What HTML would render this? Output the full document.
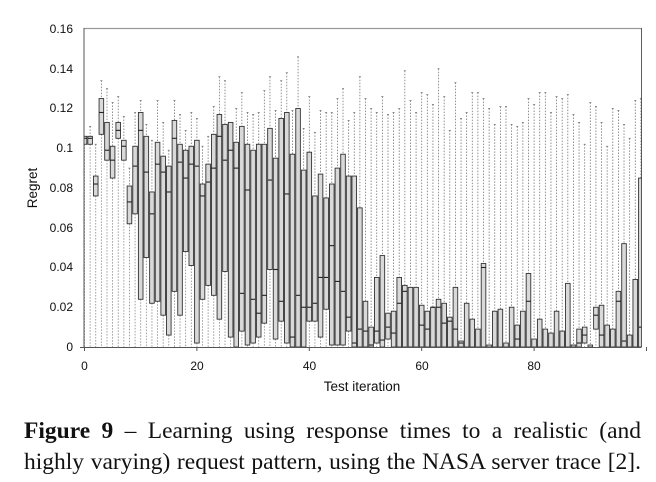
<!DOCTYPE html>
<html><head><meta charset="utf-8">
<style>
html,body{margin:0;padding:0;background:#fff;}
body{width:656px;height:482px;overflow:hidden;position:relative;}
svg{position:absolute;left:0;top:0;}
.cap{position:absolute;left:24px;top:416px;width:617px;font-family:"Liberation Serif",serif;font-size:23.5px;line-height:31px;text-align:justify;text-align-last:justify;color:#111;white-space:nowrap;}
.cap2{position:absolute;left:24px;top:447px;width:617px;font-family:"Liberation Serif",serif;font-size:23.5px;line-height:31px;color:#111;white-space:nowrap;text-align:justify;text-align-last:justify;}
</style></head><body>
<svg id="s" width="656" height="482" xmlns="http://www.w3.org/2000/svg" font-family="Liberation Sans, sans-serif">
<defs><clipPath id="c"><rect x="84" y="20" width="557.5" height="328"/></clipPath></defs>
<g id="plot" clip-path="url(#c)"></g>
<line x1="84" y1="28.5" x2="641.5" y2="28.5" stroke="#999" stroke-width="1.2"/>
<line x1="641.5" y1="28" x2="641.5" y2="347" stroke="#333" stroke-width="0.8"/>
<line x1="84" y1="28" x2="84" y2="347.5" stroke="#555" stroke-width="1"/>
<line x1="80" y1="347.5" x2="641.5" y2="347.5" stroke="#555" stroke-width="1"/>
<g id="ticks" stroke="#555" stroke-width="1"></g>
<g font-size="12" fill="#111" text-anchor="end">
<text x="73" y="33">0.16</text><text x="73" y="73">0.14</text><text x="73" y="112">0.12</text>
<text x="73" y="152">0.1</text><text x="73" y="192">0.08</text><text x="73" y="232">0.06</text>
<text x="73" y="271">0.04</text><text x="73" y="311">0.02</text><text x="73" y="351">0</text>
</g>
<g font-size="12" fill="#111" text-anchor="middle">
<text x="84.5" y="370">0</text><text x="197" y="370">20</text><text x="309.5" y="370">40</text>
<text x="422" y="370">60</text><text x="534" y="370">80</text>
<text x="362" y="391" font-size="13.5">Test iteration</text>
<text transform="translate(37,188) rotate(-90)" font-size="13.5">Regret</text>
</g>
</svg>
<div class="cap"><b>Figure 9</b> – Learning using response times to a realistic (and</div>
<div class="cap2">highly varying) request pattern, using the NASA server trace [2].</div>
<script>
var D=[[.106,.106,.105,.102],[.111,.106,.105,.102],[.102,.086,.082,.076],[.134,.125,.118,.107],[.130,.113,.099,.094],[.123,.101,.094,.085],[.126,.113,.109,.105],[.116,.104,.101,.094],[.090,.081,.073,.062],[.118,.101,.091,.067],
[.124,.118,.109,.024],[.112,.106,.088,.045],[.104,.078,.067,.022],[.124,.103,.092,.023],[.113,.096,.088,.016],[.099,.091,.078,.006],[.124,.114,.105,.028],[.117,.102,.093,.016],[.109,.099,.085,.048],[.118,.101,.092,.041],
[.115,.104,.091,.002],[.101,.082,.076,.024],[.106,.092,.083,.031],[.121,.107,.090,.026],[.136,.117,.106,.014],[.134,.112,.094,.038],[.113,.113,.099,.005],[.120,.103,.090,0],[.128,.111,.027,.008],[.118,.102,.079,.001],
[.117,.099,.024,.002],[.118,.102,.017,.005],[.129,.102,.026,.012],[.136,.110,.084,.039],[.119,.095,.039,.004],[.134,.115,.023,.013],[.138,.118,.077,.002],[.119,.097,.005,0],[.146,.120,.026,0],[.110,.089,.020,0],
[.126,.098,.020,.013],[.108,.076,.022,.013],[.119,.087,.035,.005],[.118,.075,.035,.019],[.118,.082,.051,.001],[.125,.090,.033,.001],[.130,.097,.028,.001],[.114,.086,.015,.008],[.118,.086,.002,0],[.136,.070,.009,0],
[.125,.023,.008,0],[.120,.010,.001,0],[.118,.035,.008,.002],[.126,.046,.0035,0],[.117,.017,.010,.004],[.118,.018,.007,0],[.120,.035,.022,0],[.139,.031,.028,0],[.124,.030,0,0],[.118,.030,0,0],
[.128,.021,.011,0],[.127,.018,.009,0],[.122,.020,.020,0],[.140,.024,.020,0],[.126,.022,.012,0],[.109,.015,.013,0],[.133,.030,.009,0],[.115,.003,.002,0],[.118,.022,0,0],[.128,.014,0,0],
[.128,.009,0,0],[.125,.042,.040,0],[.120,.001,0,0],[.112,.018,0,0],[.121,.019,0,0],[.121,.002,0,0],[.112,.020,0,0],[.111,.011,.004,0],[.113,.018,0,0],[.125,.037,.023,0],
[.122,.004,0,0],[.128,.014,0,0],[.128,.009,0,0],[.118,.007,0,0],[.126,.018,0,0],[.125,.008,0,0],[.127,.032,0,0],[.117,.001,0,0],[.113,.009,.002,0],[.102,.010,.006,.002],
[.123,.001,0,0],[.121,.020,.016,.009],[.113,.021,.006,0],[.101,.011,0,0],[.120,.009,0,0],[.119,.028,.023,0],[.112,.052,.003,0],[.105,.006,0,0],[.124,.034,0,0],[.125,.085,.010,0]];
var ns="http://www.w3.org/2000/svg",g=document.getElementById("plot"),t=document.getElementById("ticks");
function el(p,n,a){var e=document.createElementNS(ns,n);for(var k in a)e.setAttribute(k,a[k]);p.appendChild(e);return e;}
function Y(v){return 347-v*1987.5;}
for(var i=0;i<100;i++){var d=D[i],x=84.5+5.62*i,w=4.6;
el(g,"line",{x1:x,y1:Y(d[0]),x2:x,y2:Y(d[1]),stroke:"#777","stroke-width":0.8,"stroke-dasharray":"1.5,1.5"});
el(g,"line",{x1:x-1,y1:Y(d[0]),x2:x+1,y2:Y(d[0]),stroke:"#777","stroke-width":0.8});
el(g,"line",{x1:x,y1:Y(d[3]),x2:x,y2:347,stroke:"#888","stroke-width":0.8,"stroke-dasharray":"1.5,1.5"});
var h=Math.max(Y(d[3])-Y(d[1]),0.8);
el(g,"rect",{x:x-w/2,y:Y(d[1]),width:w,height:h,fill:"#d9d9d9",stroke:"#333","stroke-width":0.9});
if(d[2]>0)el(g,"line",{x1:x-w/2,y1:Y(d[2]),x2:x+w/2,y2:Y(d[2]),stroke:"#222","stroke-width":1.1});}
for(var j=0;j<=5;j++){var tx=84.5+112.4*j;el(t,"line",{x1:tx,y1:347,x2:tx,y2:351});}
</script>
</body></html>
